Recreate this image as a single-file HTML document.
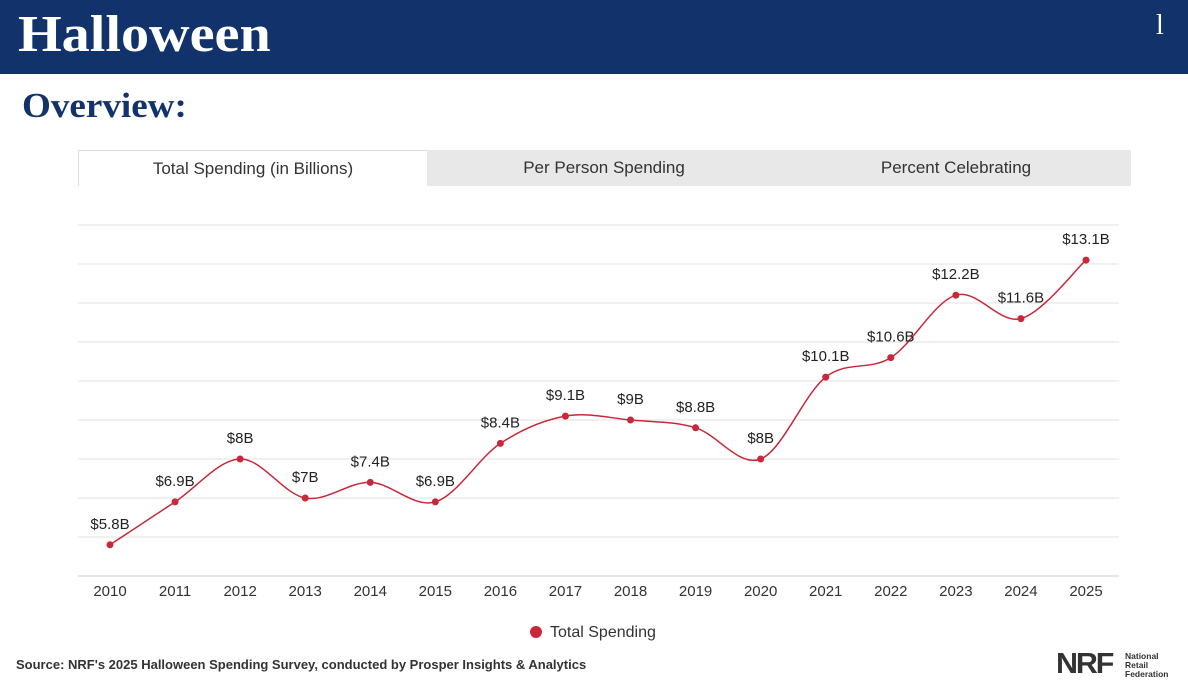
<!DOCTYPE html>
<html><head><meta charset="utf-8"><style>
body{margin:0;width:1188px;height:684px;background:#fff;overflow:hidden;position:relative;font-family:"Liberation Sans",sans-serif}
#hdr{position:absolute;left:0;top:0;width:1188px;height:74px;background:#12326b}
#title{position:absolute;left:18px;top:5px;font:bold 52px "Liberation Serif",serif;color:#fff;transform:scaleX(1.08);transform-origin:left}
#pg{position:absolute;left:1156px;top:10px;font:28px "Liberation Serif",serif;color:#fff}
#ov{position:absolute;left:22px;top:86px;font:bold 35px "Liberation Serif",serif;color:#12326b;transform:scaleX(1.06);transform-origin:left}
.tab{position:absolute;top:150px;height:36px;line-height:36px;text-align:center;font-size:17px;color:#333;background:#e8e8e8}
#src{position:absolute;left:16px;top:657px;font-size:13px;font-weight:bold;color:#333}
#nrf{position:absolute;left:1056px;top:648px;font:900 29px "Liberation Sans",sans-serif;color:#333;letter-spacing:-2px;transform:scaleX(1.05);transform-origin:left}
#nrft{position:absolute;left:1125px;top:652px;font-size:8.5px;line-height:9px;color:#333;font-weight:bold}
svg{position:absolute;left:0;top:0}
</style></head><body>
<div id="hdr"></div>
<div id="title">Halloween</div>
<div id="pg">l</div>
<div id="ov">Overview:</div>
<div class="tab" style="left:78px;width:348px;background:#fff;border:1px solid #ddd;border-bottom:none;height:35px">Total Spending (in Billions)</div>
<div class="tab" style="left:427px;width:354px">Per Person Spending</div>
<div class="tab" style="left:781px;width:350px">Percent Celebrating</div>
<svg id="chart" width="1188" height="684"></svg>
<div id="src">Source: NRF's 2025 Halloween Spending Survey, conducted by Prosper Insights &amp; Analytics</div>
<div id="nrf">NRF</div>
<div id="nrft">National<br>Retail<br>Federation</div>
<script>
const years=[2010,2011,2012,2013,2014,2015,2016,2017,2018,2019,2020,2021,2022,2023,2024,2025];
const spend=[5.8,6.9,8,7,7.4,6.9,8.4,9.1,9,8.8,8,10.1,10.6,12.2,11.6,13.1];
const labels=["$5.8B","$6.9B","$8B","$7B","$7.4B","$6.9B","$8.4B","$9.1B","$9B","$8.8B","$8B","$10.1B","$10.6B","$12.2B","$11.6B","$13.1B"];
const yTicks=[5,6,7,8,9,10,11,12,13,14];
const NS="http://www.w3.org/2000/svg",svg=document.getElementById('chart');
const x=i=>110+i*(1086-110)/(years.length-1);
const y=v=>576-(v-5)*39;
function mk(t,a){const e=document.createElementNS(NS,t);for(const k in a)e.setAttribute(k,a[k]);svg.appendChild(e);return e;}
yTicks.forEach(v=>{const l=mk('line',{x1:78,x2:1119,y1:y(v),y2:y(v),stroke:v==5?'#ccc':'#e2e2e2','stroke-width':1});

});
years.forEach((yr,i)=>{const t=mk('text',{x:x(i),y:596,'text-anchor':'middle','font-size':15,fill:'#333','font-family':'Liberation Sans, sans-serif'});t.textContent=yr;

});
const P=spend.map((v,i)=>[x(i),y(v)]);
let d='M'+P[0][0]+','+P[0][1];
for(let i=0;i<P.length-1;i++){const p0=P[i-1]||P[i],p1=P[i],p2=P[i+1],p3=P[i+2]||P[i+1];const k=6;
d+=` C${p1[0]+(p2[0]-p0[0])/k},${p1[1]+(p2[1]-p0[1])/k} ${p2[0]-(p3[0]-p1[0])/k},${p2[1]-(p3[1]-p1[1])/k} ${p2[0]},${p2[1]}`;}
const ln=mk('path',{d:d,fill:'none',stroke:'#c8283a','stroke-width':1.5});


spend.forEach((v,i)=>{const c=mk('circle',{cx:x(i),cy:y(v),r:3.5,fill:'#c8283a'});


const t=mk('text',{x:x(i),y:y(v)-16,'text-anchor':'middle','font-size':15,fill:'#222','font-family':'Liberation Sans, sans-serif'});t.textContent=labels[i];

});
const lc=mk('circle',{cx:536,cy:632,r:6,fill:'#c8283a'});


const lt=mk('text',{x:550,y:637,'font-size':16,fill:'#333','font-family':'Liberation Sans, sans-serif'});lt.textContent='Total Spending';


</script>
</body></html>
